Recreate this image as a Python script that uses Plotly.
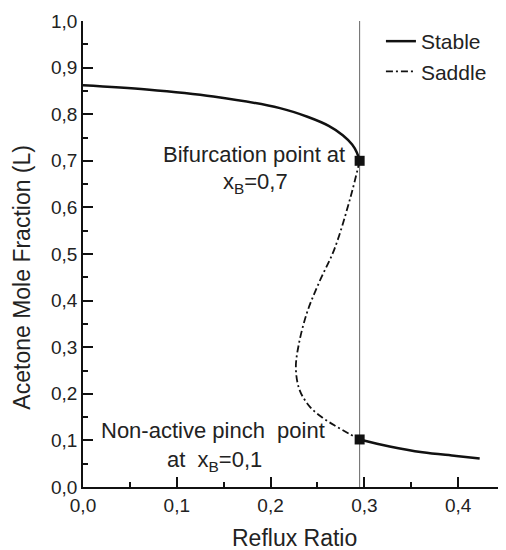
import plotly.graph_objects as go

# Data
stable_upper_x = [0.0, 0.068, 0.139, 0.21, 0.24, 0.262, 0.277, 0.287, 0.292, 0.295]
stable_upper_y = [0.862, 0.853, 0.838, 0.813, 0.794, 0.775, 0.755, 0.735, 0.718, 0.700]
saddle_x = [0.295, 0.285, 0.268, 0.252, 0.239, 0.230, 0.227, 0.231, 0.242, 0.256, 0.270, 0.284, 0.295]
saddle_y = [0.700, 0.620, 0.510, 0.440, 0.375, 0.305, 0.255, 0.208, 0.172, 0.148, 0.130, 0.114, 0.102]
stable_lower_x = [0.295, 0.327, 0.362, 0.398, 0.423]
stable_lower_y = [0.102, 0.087, 0.0745, 0.0666, 0.061]
special_x = [0.295, 0.295]
special_y = [0.700, 0.102]
vline_x = 0.295

FONT = "Liberation Sans"
TXT = "#222222"
fig = go.Figure()

fig.add_trace(go.Scatter(x=[vline_x, vline_x], y=[0, 1.0], mode="lines",
                         line=dict(color="#666666", width=1), showlegend=False, hoverinfo="skip"))
fig.add_trace(go.Scatter(x=stable_upper_x, y=stable_upper_y, mode="lines", name="Stable",
                         line=dict(color="#111111", width=2.5, shape="spline", smoothing=1.0),
                         legendgroup="s"))
fig.add_trace(go.Scatter(x=saddle_x, y=saddle_y, mode="lines", name="Saddle",
                         line=dict(color="#111111", width=1.8, shape="spline", smoothing=1.0,
                                   dash="7px,3px,2px,3px")))
fig.add_trace(go.Scatter(x=stable_lower_x, y=stable_lower_y, mode="lines", name="Stable",
                         line=dict(color="#111111", width=2.5, shape="spline"), legendgroup="s",
                         showlegend=False))
fig.add_trace(go.Scatter(x=special_x, y=special_y, mode="markers", showlegend=False,
                         marker=dict(symbol="square", size=10, color="#111111")))

ann_font = dict(family=FONT, size=22, color=TXT)
fig.add_annotation(x=0.281, y=0.713, xref="x", yref="y", text="Bifurcation point at",
                   showarrow=False, xanchor="right", font=ann_font)
fig.add_annotation(x=0.184, y=0.652, xref="x", yref="y", text="x<sub>B</sub>=0,7",
                   showarrow=False, xanchor="center", font=ann_font)
fig.add_annotation(x=0.139, y=0.122, xref="x", yref="y", text="Non-active pinch&nbsp; point",
                   showarrow=False, xanchor="center", font=ann_font)
fig.add_annotation(x=0.14, y=0.055, xref="x", yref="y", text="at&nbsp; x<sub>B</sub>=0,1",
                   showarrow=False, xanchor="center", font=ann_font)

title_font = dict(family=FONT, size=23, color=TXT)
fig.add_annotation(x=0.5, y=-0.11, xref="paper", yref="paper", text="Reflux Ratio",
                   showarrow=False, xanchor="center", yanchor="middle", font=title_font)
fig.add_annotation(x=-0.145, y=0.451, xref="paper", yref="paper", text="Acetone Mole Fraction (L)",
                   showarrow=False, xanchor="center", yanchor="middle", textangle=-90, font=title_font)

axis_common = dict(showline=True, linecolor="#111111", linewidth=1.5, ticks="inside",
                   ticklen=10, tickwidth=1.5, tickcolor="#111111", showgrid=False, zeroline=False,
                   tickformat=".1f", tickfont=dict(family=FONT, size=19, color=TXT),
                   mirror=False, automargin=False)
fig.update_xaxes(range=[0, 0.45], dtick=0.1, tick0=0,
                 minor=dict(ticks="inside", ticklen=5, dtick=0.05, tickcolor="#111111", tickwidth=1.5),
                 **axis_common)
fig.update_yaxes(range=[0, 1.0], dtick=0.1, tick0=0,
                 minor=dict(ticks="inside", ticklen=5, dtick=0.05, tickcolor="#111111", tickwidth=1.5),
                 **axis_common)

# page body has an 8px margin, so the figure is 8px smaller and margins compensate
fig.update_layout(width=498, height=542, margin=dict(l=75, r=1, t=13, b=63, autoexpand=False),
                  plot_bgcolor="white", paper_bgcolor="white", separators=",.",
                  legend=dict(x=0.706, y=1.0, xanchor="left", yanchor="top",
                              font=dict(family=FONT, size=21, color=TXT),
                              bgcolor="rgba(0,0,0,0)", tracegroupgap=0, itemwidth=30))

fig.write_html("out.html")
